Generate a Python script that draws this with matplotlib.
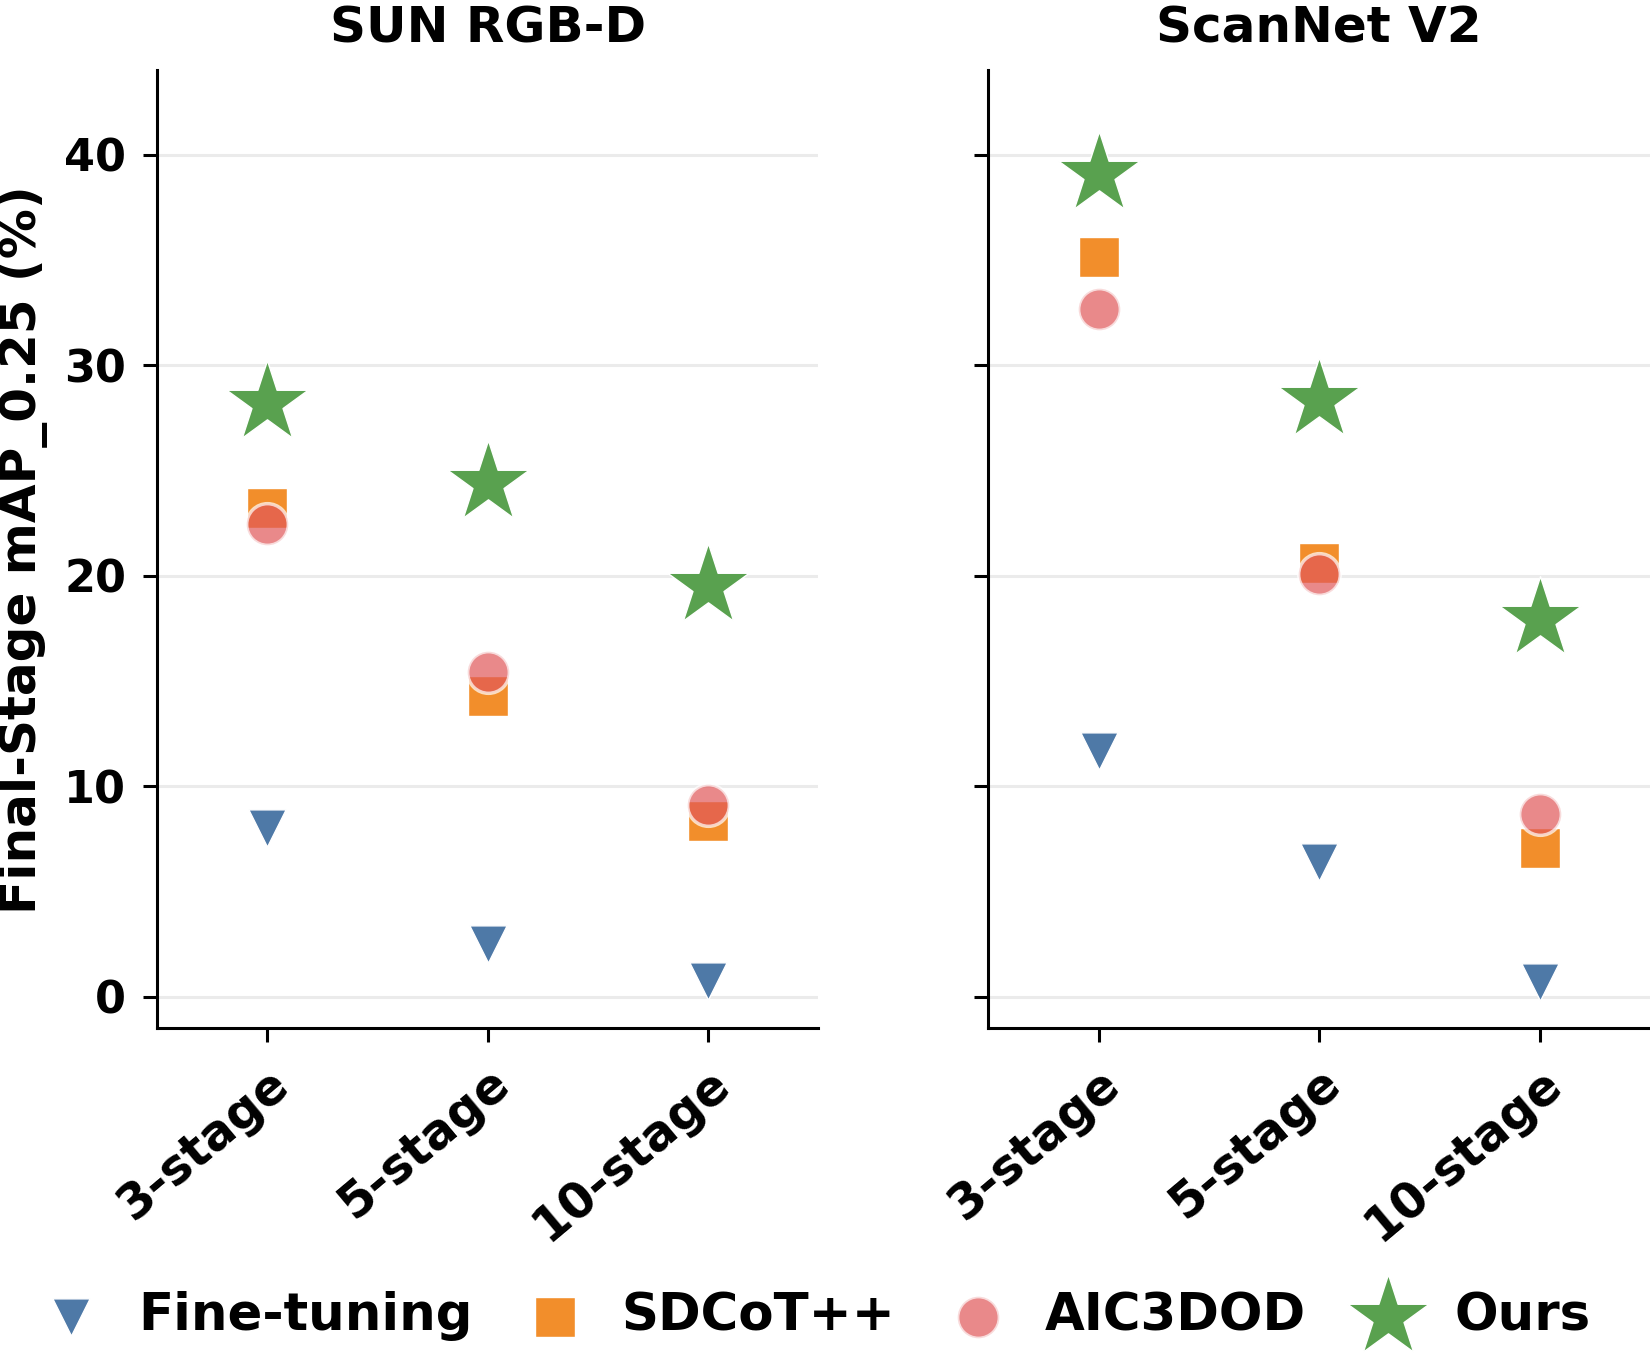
import matplotlib
matplotlib.use("Agg")
import matplotlib.pyplot as plt
import numpy as np

plt.rcParams['font.family'] = ['DejaVu Sans']
plt.rcParams['font.weight'] = 'bold'

stages = ["3-stage", "5-stage", "10-stage"]
datasets = ["SUN RGB-D", "ScanNet V2"]
methods = ["Fine-tuning", "SDCoT++", "AIC3DOD", "Ours"]

sun_finetune = [8.0, 2.5, 0.75]
sun_sdcot = [23.2, 14.3, 8.35]
sun_aic = [22.45, 15.4, 9.1]
sun_ours = [28.2, 24.4, 19.5]

scan_finetune = [11.65, 6.4, 0.7]
scan_sdcot = [35.15, 20.6, 7.05]
scan_aic = [32.65, 20.1, 8.7]
scan_ours = [39.1, 28.35, 17.95]

colors = {"Fine-tuning": "#4e79a7", "SDCoT++": "#f28e2b", "AIC3DOD": "#e15759", "Ours": "#59a14f"}
markers = {"Fine-tuning": "v", "SDCoT++": "s", "AIC3DOD": "o", "Ours": "*"}
sizes = {"Fine-tuning": 720, "SDCoT++": 800, "AIC3DOD": 900, "Ours": 3800}
alphas = {"Fine-tuning": 1.0, "SDCoT++": 1.0, "AIC3DOD": 0.7, "Ours": 1.0}
edgew = {"Fine-tuning": 1.0, "SDCoT++": 1.0, "AIC3DOD": 2.5, "Ours": 1.0}

data = {
    "SUN RGB-D": [sun_finetune, sun_sdcot, sun_aic, sun_ours],
    "ScanNet V2": [scan_finetune, scan_sdcot, scan_aic, scan_ours],
}

fig = plt.figure(figsize=(16.5, 13.53), dpi=100)
ax1 = fig.add_axes([0.095, 0.240, 0.401, 0.708])
ax2 = fig.add_axes([0.599, 0.240, 0.401, 0.708], sharey=ax1)
axes = [ax1, ax2]

x = np.arange(len(stages))
for ax, ds in zip(axes, datasets):
    for m, vals in zip(methods, data[ds]):
        ax.scatter(x, vals, marker=markers[m], s=sizes[m], color=colors[m],
                   alpha=alphas[m], edgecolors='white', linewidths=edgew[m], zorder=3, label=m)
    ax.set_title(ds, fontsize=36, fontweight='bold', pad=20)
    ax.set_xticks(x)
    ax.set_xticklabels(stages, rotation=40, ha='right', rotation_mode='anchor',
                       fontsize=35, fontweight='bold')
    ax.set_xlim(-0.5, 2.5)
    ax.set_ylim(-1.5, 44)
    ax.set_yticks([0, 10, 20, 30, 40])
    ax.yaxis.grid(True, color='#ebebeb', linewidth=2.2, zorder=0)
    ax.set_axisbelow(True)
    for s in ['top', 'right']:
        ax.spines[s].set_visible(False)
    for s in ['left', 'bottom']:
        ax.spines[s].set_linewidth(2.2)
    ax.tick_params(axis='both', length=10, width=2.2, pad=12)
    ax.tick_params(axis='y', labelsize=32)
    for lab in ax.get_yticklabels():
        lab.set_fontweight('bold')

ax2.tick_params(axis='y', labelleft=False)
ax1.set_ylabel("Final-Stage mAP_0.25 (%)", fontsize=36, fontweight='bold', labelpad=12)

handles, labels = ax1.get_legend_handles_labels()
fig.legend(handles, labels, loc='center', bbox_to_anchor=(0.496, 0.027), ncol=4,
           frameon=False, prop={'size': 37, 'weight': 'bold'}, handlelength=1.0,
           handletextpad=0.8, columnspacing=1.1)

fig.savefig("out.png", dpi=100)
